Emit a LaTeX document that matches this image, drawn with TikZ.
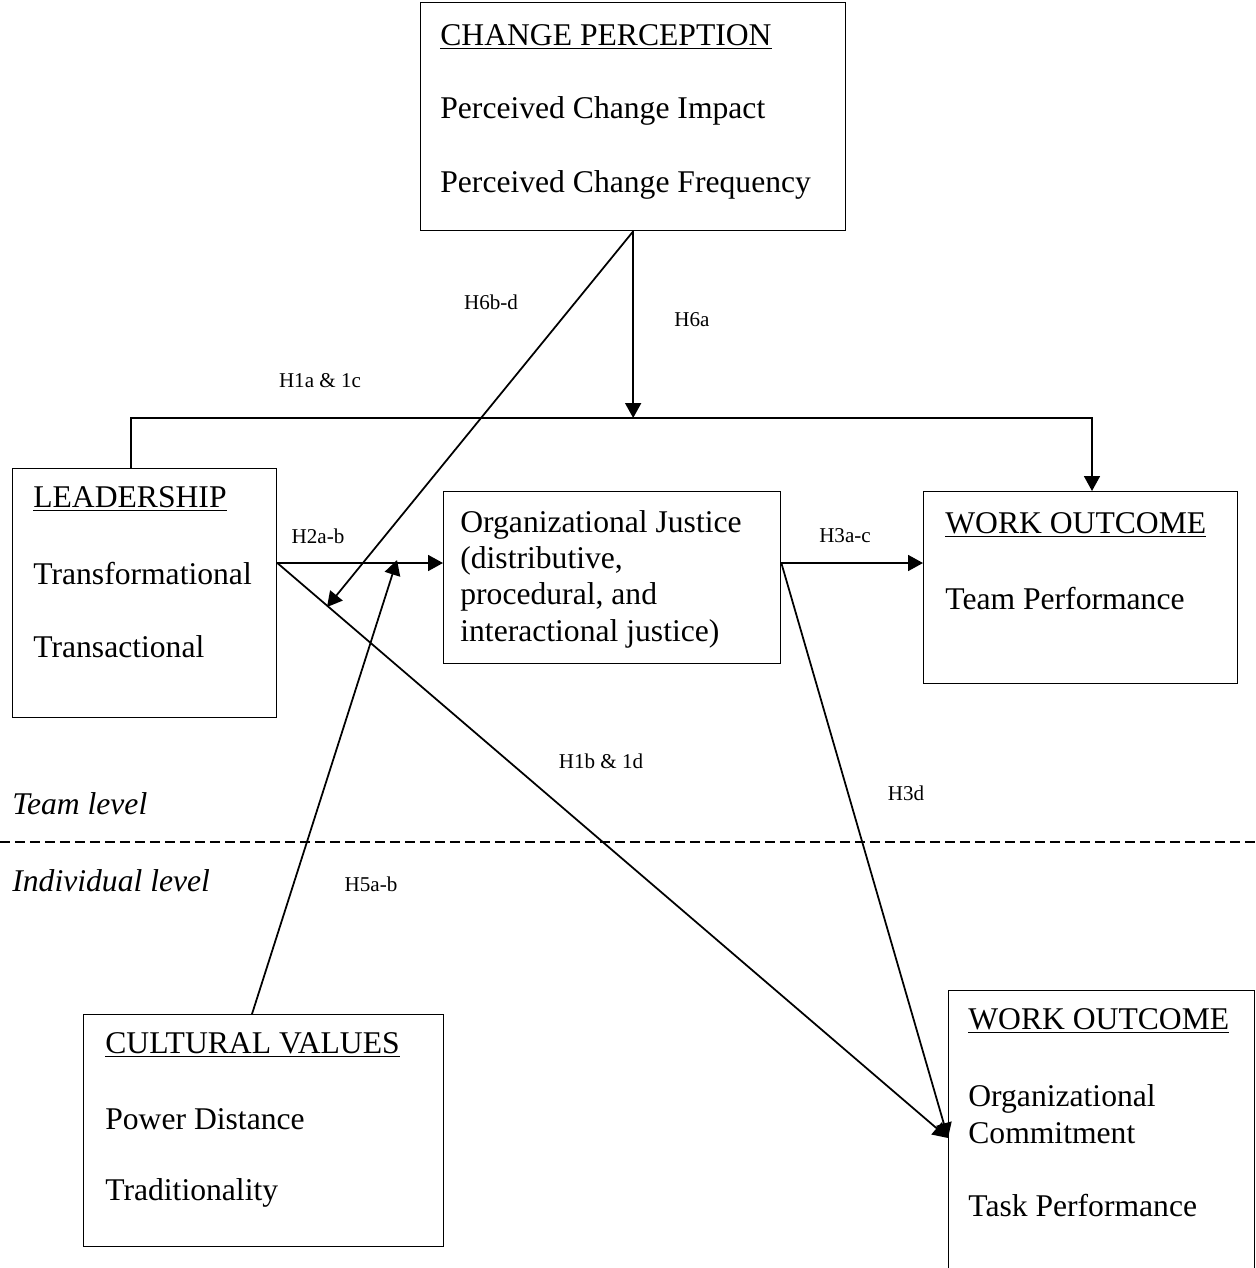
\documentclass[tikz,border=0pt]{standalone}
\usepackage{fontspec}
\setmainfont{Liberation Serif}
\usetikzlibrary{arrows.meta, positioning, calc}

\begin{document}
\begin{tikzpicture}[x=0.02cm, y=-0.02cm, >={Triangle[length=0.3cm, width=0.32cm]},
  box/.style={draw, line width=0.8pt, anchor=north west, inner sep=0pt},
  boxtext/.style={anchor=west, inner sep=0pt, font=\fontsize{18}{20.7}\selectfont},
  hyp/.style={inner sep=0pt, font=\fontsize{12}{14}\selectfont},
  link/.style={->, line width=1pt}]
  \useasboundingbox (0,0) rectangle (1255,1268);

  % Boxes
  \node[box, minimum width=8.5cm, minimum height=4.56cm] (chg) at (420,2) {};
  \node[box, minimum width=5.28cm, minimum height=4.98cm] (lead) at (12,468) {};
  \node[box, minimum width=6.74cm, minimum height=3.44cm] (just) at (443,491) {};
  \node[box, minimum width=6.28cm, minimum height=3.84cm] (wot) at (923,491) {};
  \node[box, minimum width=7.2cm, minimum height=4.64cm] (cult) at (83,1014) {};
  \node[box, minimum width=6.12cm, minimum height=6cm] (woi) at (948,990) {};

  % Box texts
  \node[boxtext] (chgA) at (440,37) {\underline{CHANGE PERCEPTION}};
  \node[boxtext] (chgB) at (440,111) {Perceived Change Impact};
  \node[boxtext] (chgC) at (440,185) {Perceived Change Frequency};

  \node[boxtext] (leadA) at (33,499) {\underline{LEADERSHIP}};
  \node[boxtext] (leadB) at (33,574) {Transformational};
  \node[boxtext] (leadC) at (33,647) {Transactional};

  \node[boxtext, align=left] (justA) at (460,579) {Organizational Justice\\(distributive,\\procedural, and\\interactional justice)};

  \node[boxtext] (wotA) at (945,525) {\underline{WORK OUTCOME}};
  \node[boxtext] (wotB) at (945,599) {Team Performance};

  \node[boxtext] (cultA) at (105,1045) {\underline{CULTURAL VALUES}};
  \node[boxtext] (cultB) at (105,1119) {Power Distance};
  \node[boxtext] (cultC) at (105,1193) {Traditionality};

  \node[boxtext] (woiA) at (968,1021) {\underline{WORK OUTCOME}};
  \node[boxtext, align=left] (woiB) at (968,1114) {Organizational\\Commitment};
  \node[boxtext] (woiC) at (968,1206) {Task Performance};

  % Levels
  \node[boxtext, font=\fontsize{18}{20.7}\selectfont\itshape] (team) at (12,804) {Team level};
  \node[boxtext, font=\fontsize{18}{20.7}\selectfont\itshape] (indiv) at (12,881) {Individual level};
  \draw[line width=0.8pt, dash pattern=on 0.2cm off 0.1cm] (0,842) -- (1255,842);

  % Connector points
  \coordinate (h1L) at (131,418);
  \coordinate (h1R) at (1092,418);
  \coordinate (h2) at (276,563);
  \coordinate (h3) at (780,563);
  \coordinate (h6tip) at (327,607);
  \coordinate (h5tip) at (397,560);
  \coordinate (h5foot) at (252,1014);
  \coordinate (woin) at (948,1138);

  % Paths
  \draw[link] (lead.north -| h1L) -- (h1L) -- (h1R) -- (wot.north -| h1R);
  \draw[link] (chg.south) -- (chg.south |- h1L);
  \draw[link] (chg.south) -- (h6tip);
  \draw[link] (lead.east |- h2) -- (just.west |- h2);
  \draw[link] (just.east |- h3) -- (wot.west |- h3);
  \draw[link] (lead.east |- h2) -- (woi.west |- woin);
  \draw[link] (just.east |- h3) -- (woi.west |- woin);
  \draw[link] (cult.north -| h5foot) -- (h5tip);

  % Hypothesis labels
  \node[hyp] (l6bd) at (491,302) {H6b-d};
  \node[hyp] (l6a) at (692,320) {H6a};
  \node[hyp] (l1a) at (320,381) {H1a \& 1c};
  \node[hyp] (l2) at (318,536) {H2a-b};
  \node[hyp] (l3) at (845,536) {H3a-c};
  \node[hyp] (l1b) at (601,761) {H1b \& 1d};
  \node[hyp] (l3d) at (906,793) {H3d};
  \node[hyp] (l5) at (371,884) {H5a-b};
\end{tikzpicture}
\end{document}
